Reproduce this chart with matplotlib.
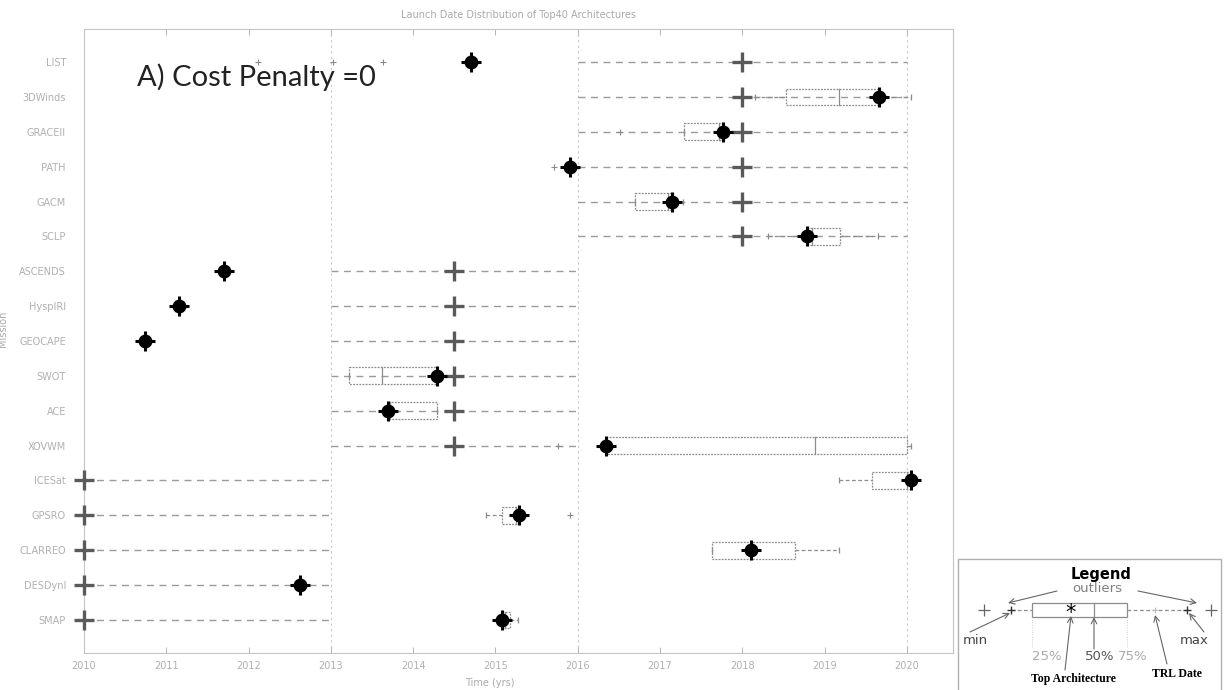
import math

import matplotlib
matplotlib.use("Agg")
import matplotlib.pyplot as plt
from matplotlib.patches import Rectangle

# ---------------------------------------------------------------------------
# Data (years)
# ---------------------------------------------------------------------------
missions = ["LIST", "3DWinds", "GRACEII", "PATH", "GACM", "SCLP", "ASCENDS",
            "HyspIRI", "GEOCAPE", "SWOT", "ACE", "XOVWM", "ICESat", "GPSRO",
            "CLARREO", "DESDynI", "SMAP"]

trl_date = [2018.0, 2018.0, 2018.0, 2018.0, 2018.0, 2018.0,
            2014.5, 2014.5, 2014.5, 2014.5, 2014.5, 2014.5,
            2010.0, 2010.0, 2010.0, 2010.0, 2010.0]
trl_lo = [2016] * 6 + [2013] * 6 + [2010] * 5
trl_hi = [2020] * 6 + [2016] * 6 + [2013] * 5

top_arch = [2014.70, 2019.66, 2017.76, 2015.90, 2017.15, 2018.79, 2011.70,
            2011.15, 2010.74, 2014.29, 2013.69, 2016.34, 2020.05, 2015.28,
            2018.10, 2012.62, 2015.08]

nan = float("nan")
box_q1 = [nan, 2018.53, 2017.29, nan, 2016.70, 2018.79, nan, nan, nan,
          2013.22, 2013.69, 2016.34, 2019.57, 2015.08, 2017.63, nan, 2015.08]
box_med = [nan, 2019.17, 2017.72, nan, 2017.10, 2018.85, nan, nan, nan,
           2013.62, 2013.72, 2018.88, 2020.00, 2015.25, 2018.10, nan, 2015.12]
box_q3 = [nan, 2019.66, 2017.75, nan, 2017.16, 2019.19, nan, nan, nan,
          2014.29, 2014.29, 2020.00, 2020.05, 2015.28, 2018.64, nan, 2015.18]
whisk_lo = [nan, 2018.15, 2017.29, nan, 2016.70, 2018.31, nan, nan, nan,
            2013.22, 2013.69, 2016.34, 2019.17, 2014.88, 2017.63, nan, 2015.08]
whisk_hi = [nan, 2020.05, 2017.75, nan, 2017.28, 2019.65, nan, nan, nan,
            2014.29, 2014.29, 2020.05, 2020.05, 2015.28, 2019.17, nan, 2015.27]

outlier_row = [1, 1, 1, 3, 4, 12, 14]
outlier_x = [2012.11, 2013.03, 2013.63, 2016.51, 2015.71, 2015.76, 2015.90]

year_ticks = list(range(2010, 2021))
phase_edges = [2013, 2016, 2020]

# ---------------------------------------------------------------------------
# Figure
# ---------------------------------------------------------------------------
W, H = 1225, 690
fig = plt.figure(figsize=(W / 100, H / 100), dpi=100)
fig.patch.set_facecolor("white")

ax = fig.add_axes([84 / W, 1 - 653 / H, (953 - 84) / W, (653 - 29) / H])

dash_c = "#9a9a9a"
box_c = "#8c8c8c"
dash = (0, (5, 4))

for xv in phase_edges:
    ax.axvline(xv, color="#c8c8c8", lw=0.8, ls=(0, (2, 3)), zorder=0)

for i, name in enumerate(missions):
    y = i + 1
    # TRL range line
    ax.plot([trl_lo[i], trl_hi[i]], [y, y], color=dash_c, lw=1.0, ls=dash, zorder=1)

    if not math.isnan(box_q1[i]):
        ax.add_patch(Rectangle((box_q1[i], y - 0.24), box_q3[i] - box_q1[i], 0.48,
                               fill=False, ec=box_c, lw=0.9, ls=(0, (1.5, 1)), zorder=2))
        ax.plot([box_med[i], box_med[i]], [y - 0.24, y + 0.24], color=box_c, lw=0.9, zorder=2)
        ax.plot([whisk_lo[i], box_q1[i]], [y, y], color=box_c, lw=0.9, ls=(0, (3, 2)), zorder=2)
        ax.plot([box_q3[i], whisk_hi[i]], [y, y], color=box_c, lw=0.9, ls=(0, (3, 2)), zorder=2)
        ax.plot([whisk_lo[i], whisk_hi[i]], [y, y], ls="none", marker="|", ms=5,
                mew=0.9, color=box_c, zorder=2)

    # TRL date marker
    ax.plot(trl_date[i], y, marker="+", ms=15, mew=2.4, color="#5a5a5a",
            zorder=3, clip_on=False)
    # top architecture marker
    ax.plot(top_arch[i], y, marker="o", ms=9, color="black", zorder=4, clip_on=False)
    ax.plot(top_arch[i], y, marker="+", ms=14, mew=2.2, color="black", zorder=4,
            clip_on=False)

ax.plot(outlier_x, outlier_row, ls="none", marker="+", ms=4, mew=0.8, color="#8a8a8a", zorder=2)

ax.set_xlim(2010, 2020.56)
ax.set_ylim(17.95, 0.05)
ax.set_xticks(year_ticks)
ax.set_xticklabels([str(t) for t in year_ticks])
ax.set_yticks(range(1, len(missions) + 1))
ax.set_yticklabels(missions)
ax.tick_params(axis="both", direction="in", length=4, width=0.7, color="#b5b5b5",
               labelcolor="#b0b0b0", labelsize=7, top=True, right=True)
ax.tick_params(axis="y", length=0, pad=13)
ax.tick_params(axis="x", pad=6)
for sp in ax.spines.values():
    sp.set_color("#c4c4c4")
    sp.set_linewidth(0.8)

ax.set_title("Launch Date Distribution of Top40 Architectures", fontsize=7,
             color="#aaaaaa", pad=8)
ax.set_xlabel("Time (yrs)", fontsize=7, color="#aaaaaa")
ax.xaxis.set_label_coords((490 - 84) / (953 - 84), -0.04)
ax.set_ylabel("Mission", fontsize=7, color="#aaaaaa")
ax.yaxis.set_label_coords(-(84 - 8) / (953 - 84), 0.52)

fig.text(256 / W, 1 - 77 / H, "A) Cost Penalty =0", fontsize=21, family="Lato",
         color="#222222", ha="center", va="center")

# ---------------------------------------------------------------------------
# Hand-drawn legend box (pixel coordinates)
# ---------------------------------------------------------------------------
lg = fig.add_axes([957 / W, 0, (1222 - 957) / W, (690 - 558) / H])
lg.set_xlim(957, 1222)
lg.set_ylim(690, 558)
lg.axis("off")
lg.plot([958, 958, 1221, 1221], [690, 559, 559, 690], color="#b0b0b0", lw=1, clip_on=False)

gray = "#808080"
arrow = dict(arrowstyle="->", color="#666666", lw=0.8, shrinkA=0, shrinkB=0)

lg.text(1101, 574, "Legend", fontsize=10.5, weight="bold", ha="center", va="center")
lg.text(1097, 589, "outliers", fontsize=9.5, color=gray, ha="center", va="center")
lg.annotate("", xy=(1008, 603), xytext=(1057, 591), arrowprops=arrow)
lg.annotate("", xy=(1197, 603), xytext=(1138, 591), arrowprops=arrow)

ry = 610
lg.plot(984, ry, marker="+", ms=9, mew=0.9, color="#666666")
lg.plot([1011, 1032], [ry, ry], color=box_c, lw=0.9, ls=(0, (3, 2)))
lg.plot([1127, 1187], [ry, ry], color=box_c, lw=0.9, ls=(0, (3, 2)))
lg.plot(1011, ry, marker="+", ms=6, mew=1.0, color="#333333")
lg.plot(1187, ry, marker="+", ms=6, mew=1.0, color="#333333")
lg.plot(1155, ry, marker="+", ms=5, mew=0.8, color="#bbbbbb")
lg.plot(1211, ry, marker="+", ms=9, mew=0.9, color="#666666")
lg.add_patch(Rectangle((1032, ry - 7), 95, 14, fill=False, ec=box_c, lw=0.9))
lg.plot([1094, 1094], [ry - 7, ry + 7], color=box_c, lw=0.9)
lg.text(1071, ry + 3, "*", fontsize=15, ha="center", va="center")
for xv in (1032, 1127):
    lg.plot([xv, xv], [ry + 7, 648], color="#d0d0d0", lw=0.7, ls=(0, (1, 1.5)))

lg.text(975, 641, "min", fontsize=9.5, color="#444444", ha="center", va="center")
lg.text(1194, 641, "max", fontsize=9.5, color="#444444", ha="center", va="center")
lg.annotate("", xy=(1010, 613), xytext=(970, 632), arrowprops=arrow)
lg.annotate("", xy=(1189, 613), xytext=(1204, 632), arrowprops=arrow)

lg.text(1047, 657, "25%", fontsize=9.5, color="#aaaaaa", ha="center", va="center")
lg.text(1100, 657, "50%", fontsize=9.5, color="#555555", ha="center", va="center")
lg.text(1133, 657, "75%", fontsize=9.5, color="#aaaaaa", ha="center", va="center")
lg.annotate("", xy=(1094, 617), xytext=(1094, 649), arrowprops=arrow)

lg.text(1073, 679, "Top Architecture", fontsize=8.5, weight="bold",
        family="Liberation Serif", ha="center", va="center")
lg.text(1177, 674, "TRL Date", fontsize=8.5, weight="bold",
        family="Liberation Serif", ha="center", va="center")
lg.annotate("", xy=(1071, 616), xytext=(1065, 670), arrowprops=arrow)
lg.annotate("", xy=(1155, 615), xytext=(1167, 664), arrowprops=arrow)

fig.savefig("out.png", dpi=100)
